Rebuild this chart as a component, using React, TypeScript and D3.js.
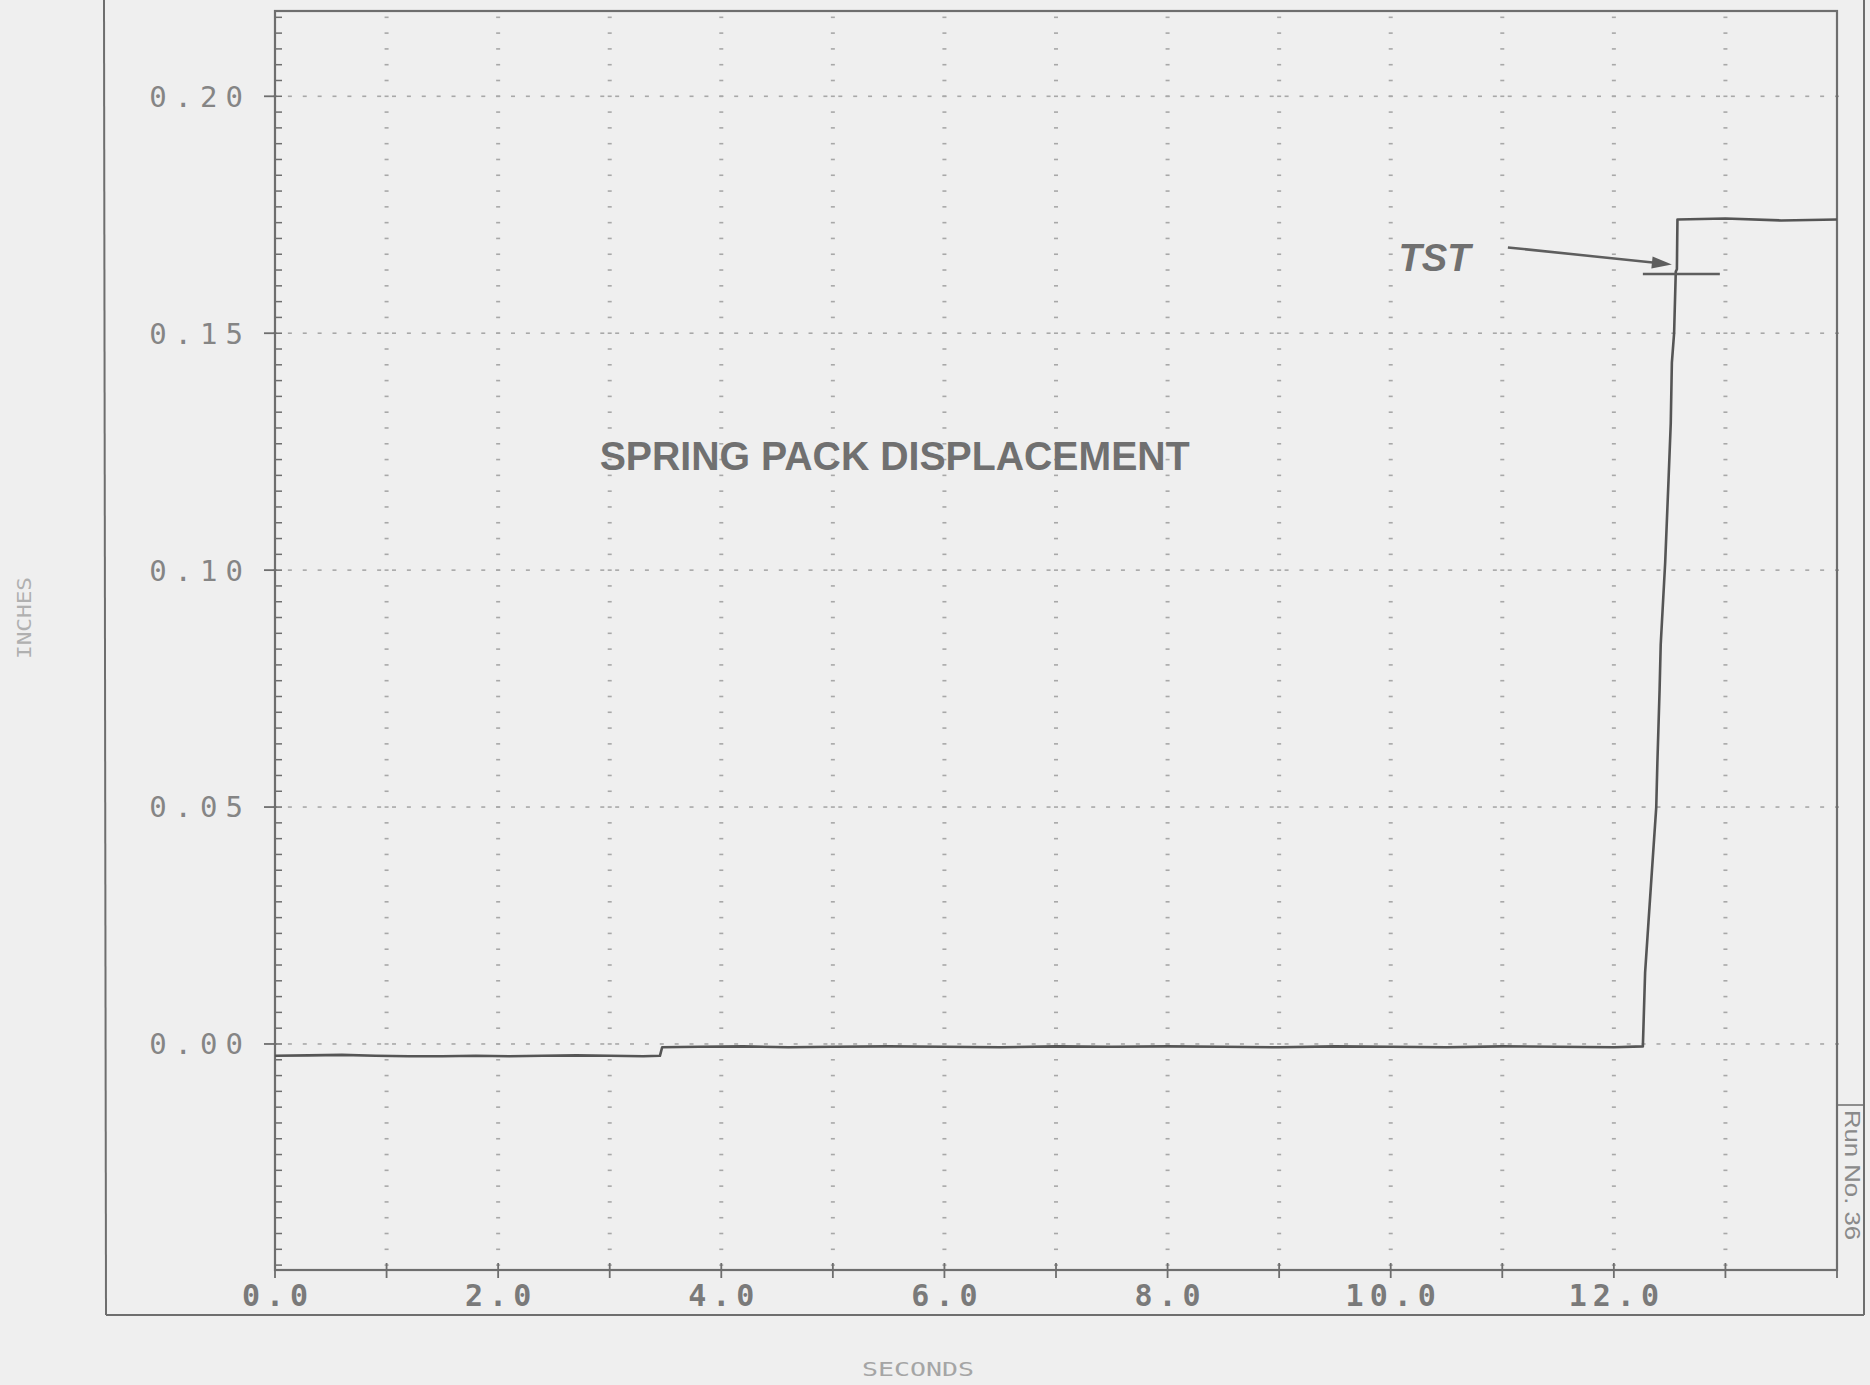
import React from "react";
import * as d3 from "d3";

// ---- data ----
const timeS = [
  0, 0.3, 0.6, 0.9, 1.2, 1.5, 1.8, 2.1, 2.4, 2.7, 3.0, 3.3, 3.45,
  3.47, 3.8, 4.2, 4.6, 5.0, 5.5, 6.0, 6.5, 7.0, 7.5, 8.0, 8.5, 9.0, 9.5,
  10.0, 10.5, 11.0, 11.5, 12.0, 12.26,
  12.28, 12.31, 12.34, 12.38, 12.39, 12.41, 12.42, 12.46, 12.49, 12.51,
  12.52, 12.54, 12.555, 12.565, 12.57, 13.0, 13.5, 14.0,
];
const displacementIn = [
  -0.0025, -0.0024, -0.0023, -0.0025, -0.0026, -0.0026, -0.0025, -0.0026, -0.0025, -0.0024, -0.0025, -0.0026, -0.0025,
  -0.0007, -0.0006, -0.0005, -0.0007, -0.0006, -0.0005, -0.0006, -0.0007, -0.0005, -0.0006, -0.0005, -0.0006, -0.0007, -0.0005,
  -0.0006, -0.0007, -0.0005, -0.0006, -0.0007, -0.0005,
  0.015, 0.0256, 0.0361, 0.05, 0.0593, 0.0748, 0.0843, 0.1016, 0.119, 0.131,
  0.1438, 0.15, 0.163, 0.1635, 0.174, 0.1742, 0.1738, 0.174,
];
const yMajorTicks = [0.0, 0.05, 0.1, 0.15, 0.2];
const yTickLabels = ["0.00", "0.05", "0.10", "0.15", "0.20"];
const xMajorTicks = [0, 2, 4, 6, 8, 10, 12];
const xTickLabels = ["0.0", "2.0", "4.0", "6.0", "8.0", "10.0", "12.0"];
const xGridLines = [1, 2, 3, 4, 5, 6, 7, 8, 9, 10, 11, 12, 13];
const xAxisTicks = [0, 1, 2, 3, 4, 5, 6, 7, 8, 9, 10, 11, 12, 13, 14];

const W = 1870;
const H = 1385;
const BG = "#efefef";
const FRAME = "#6e6e6e";
const DOT = "#a8a8a8";

export default function App() {
  const x = d3.scaleLinear().domain([0, 14]).range([275, 1837]);
  const y = d3.scaleLinear().domain([-0.0477, 0.218]).range([1270, 11]);

  const pts = timeS.map((t, i) => [t, displacementIn[i]] as [number, number]);
  const line = d3
    .line<[number, number]>()
    .x((d) => x(d[0]))
    .y((d) => y(d[1]));

  const minorStep = 0.05 / 15;
  const minorVals = d3.range(-14, 66).map((k) => k * minorStep);
  const hDotVals = d3.range(0, 106).map((k) => (k * 2) / 15);

  const x0 = x(0);
  const x1 = x(14);
  const yTop = y(0.218);
  const yBot = y(-0.0477);

  // annotation anchors (data coords)
  const arrowFrom: [number, number] = [11.05, 0.1681];
  const arrowTo: [number, number] = [12.52, 0.1645];
  const ax1 = x(arrowFrom[0]), ay1 = y(arrowFrom[1]);
  const ax2 = x(arrowTo[0]), ay2 = y(arrowTo[1]);
  const ang = Math.atan2(ay2 - ay1, ax2 - ax1);
  const hl = 20, hw = 6;
  const head = [
    [ax2, ay2],
    [ax2 - hl * Math.cos(ang) + hw * Math.sin(ang), ay2 - hl * Math.sin(ang) - hw * Math.cos(ang)],
    [ax2 - hl * Math.cos(ang) - hw * Math.sin(ang), ay2 - hl * Math.sin(ang) + hw * Math.cos(ang)],
  ]
    .map((p) => p.join(","))
    .join(" ");

  return (
    <svg
      width={W}
      height={H}
      style={{ position: "absolute", left: 0, top: 0, display: "block" }}
      xmlns="http://www.w3.org/2000/svg"
    >
      <rect x={0} y={0} width={W} height={H} fill={BG} />

      {/* outer frame */}
      <line x1={104} y1={0} x2={106} y2={1315} stroke={FRAME} strokeWidth={2} />
      <line x1={106} y1={1315} x2={1864} y2={1315} stroke={FRAME} strokeWidth={2} />
      <line x1={1864} y1={0} x2={1864} y2={1315} stroke={FRAME} strokeWidth={2} />
      <line x1={x1} y1={1105} x2={1864} y2={1105} stroke={FRAME} strokeWidth={1.5} />

      {/* dotted grid: vertical */}
      {xGridLines.map((g) =>
        minorVals.map((v) => (
          <line
            key={`vg${g}_${v}`}
            x1={x(g) - 2}
            x2={x(g) + 2}
            y1={y(v)}
            y2={y(v)}
            stroke={DOT}
            strokeWidth={1.6}
          />
        ))
      )}
      {/* dotted grid: horizontal */}
      {yMajorTicks.map((v) =>
        hDotVals.map((h) => (
          <line
            key={`hg${v}_${h}`}
            x1={x(h) - 2}
            x2={x(h) + 2}
            y1={y(v)}
            y2={y(v)}
            stroke={DOT}
            strokeWidth={1.6}
          />
        ))
      )}

      {/* plot frame */}
      <rect
        x={x0}
        y={yTop}
        width={x1 - x0}
        height={yBot - yTop}
        fill="none"
        stroke={FRAME}
        strokeWidth={2.2}
      />

      {/* y minor ticks */}
      {minorVals.map((v) => (
        <line key={`ym${v}`} x1={x0} x2={x0 + 7} y1={y(v)} y2={y(v)} stroke={FRAME} strokeWidth={1.5} />
      ))}
      {/* y major ticks + labels */}
      {yMajorTicks.map((v, i) => (
        <g key={`yt${v}`}>
          <line x1={x0 - 11} x2={x0} y1={y(v)} y2={y(v)} stroke={FRAME} strokeWidth={1.8} />
          <text
            x={x0 - 24}
            y={y(v)}
            dy="0.36em"
            textAnchor="end"
            fontFamily="DejaVu Sans Mono"
            fontSize={29}
            letterSpacing={8}
            fill="#858585"
          >
            {yTickLabels[i]}
          </text>
        </g>
      ))}

      {/* x ticks */}
      {xAxisTicks.map((t) => (
        <line key={`xt${t}`} x1={x(t)} x2={x(t)} y1={yBot - 7} y2={yBot + 8} stroke={FRAME} strokeWidth={1.8} />
      ))}
      {xMajorTicks.map((t, i) => (
        <text
          key={`xl${t}`}
          x={x(t) + 3}
          y={1306}
          textAnchor="middle"
          fontFamily="DejaVu Sans Mono"
          fontWeight="bold"
          fontSize={30}
          letterSpacing={6}
          fill="#7a7a7a"
        >
          {xTickLabels[i]}
        </text>
      ))}

      {/* data */}
      <path d={line(pts) || ""} fill="none" stroke="#555" strokeWidth={2.6} strokeLinejoin="round" />

      {/* title */}
      <text
        x={x(2.91)}
        y={y(0.1212)}
        fontFamily="Liberation Sans, Arial, sans-serif"
        fontWeight="bold"
        fontSize={40}
        textLength={590}
        lengthAdjust="spacingAndGlyphs"
        fill="#707070"
      >
        SPRING PACK DISPLACEMENT
      </text>

      {/* TST annotation */}
      <text
        x={x(10.07)}
        y={y(0.1632)}
        fontFamily="Liberation Sans, Arial, sans-serif"
        fontWeight="bold"
        fontStyle="italic"
        fontSize={38}
        textLength={72}
        lengthAdjust="spacingAndGlyphs"
        fill="#707070"
      >
        TST
      </text>
      <line x1={ax1} y1={ay1} x2={ax2 - 12 * Math.cos(ang)} y2={ay2 - 12 * Math.sin(ang)} stroke="#5e5e5e" strokeWidth={2.5} />
      <polygon points={head} fill="#5e5e5e" />
      <line x1={x(12.26)} x2={x(12.95)} y1={y(0.1625)} y2={y(0.1625)} stroke="#5e5e5e" strokeWidth={2.5} />

      {/* axis titles */}
      <text
        x={918}
        y={1376}
        textAnchor="middle"
        fontFamily="DejaVu Sans Mono"
        fontSize={20}
        textLength={112}
        lengthAdjust="spacingAndGlyphs"
        fill="#a5a5a5"
      >
        SECONDS
      </text>
      <text
        transform="translate(31,618) rotate(-90)"
        textAnchor="middle"
        fontFamily="DejaVu Sans Mono"
        fontSize={20}
        textLength={82}
        lengthAdjust="spacingAndGlyphs"
        fill="#b0b0b0"
      >
        INCHES
      </text>

      {/* run number */}
      <text
        transform="translate(1845,1175) rotate(90)"
        textAnchor="middle"
        fontFamily="Liberation Sans, Arial, sans-serif"
        fontSize={22}
        textLength={130}
        lengthAdjust="spacingAndGlyphs"
        fill="#8a8a8a"
      >
        Run No. 36
      </text>
    </svg>
  );
}
